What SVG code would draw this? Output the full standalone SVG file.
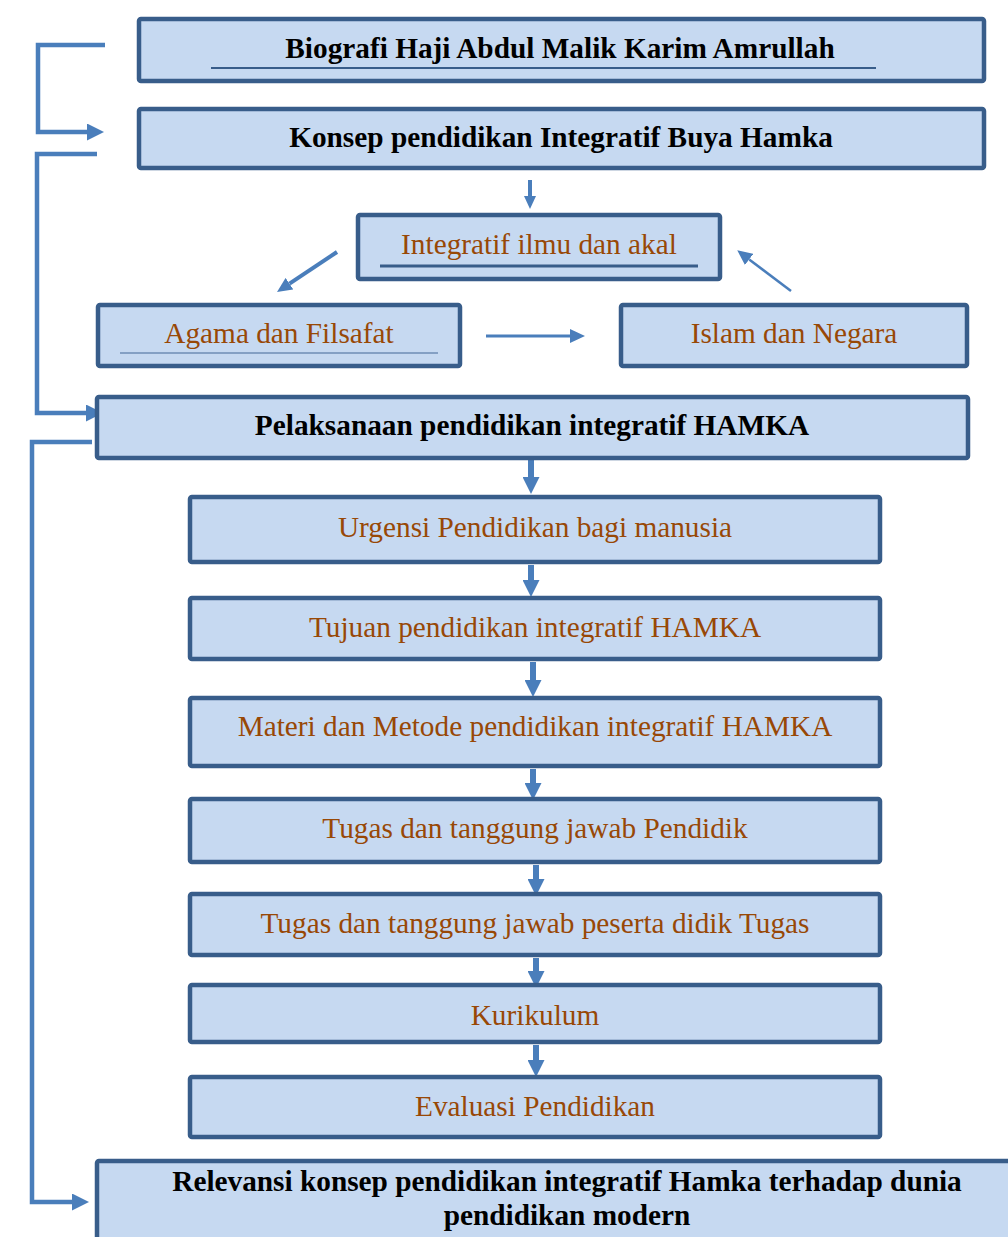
<svg xmlns="http://www.w3.org/2000/svg" width="1008" height="1237" viewBox="0 0 1008 1237">
<style>
.box{fill:#C6D9F1;stroke:#385D8A;stroke-width:4.5}
.b{font-family:"Liberation Serif","Times New Roman",serif;font-size:29.3px;font-weight:bold;fill:#000;text-anchor:middle}
.r{font-family:"Liberation Serif","Times New Roman",serif;font-size:29.3px;fill:#984806;text-anchor:middle}
.ul{stroke:#385D8A;fill:none}
.c{stroke:#4A7EBB;fill:none}
</style>
<defs>
<marker id="aBig" markerUnits="userSpaceOnUse" markerWidth="17" markerHeight="17" refX="0" refY="8.5" orient="auto"><path d="M0,0 L17,8.5 L0,17 z" fill="#4A7EBB"/></marker>
<marker id="aMed" markerUnits="userSpaceOnUse" markerWidth="15" markerHeight="14" refX="0" refY="7" orient="auto"><path d="M0,0 L15,7 L0,14 z" fill="#4A7EBB"/></marker>
<marker id="aSm" markerUnits="userSpaceOnUse" markerWidth="13" markerHeight="12" refX="0" refY="6" orient="auto"><path d="M0,0 L13,6 L0,12 z" fill="#4A7EBB"/></marker>
</defs>

<g id="connectors">
<path class="c" stroke-width="4.5" d="M105,45 H38 V132 H87" marker-end="url(#aBig)"/>
<path class="c" stroke-width="4.5" d="M97,154 H37 V413 H86" marker-end="url(#aBig)"/>
<path class="c" stroke-width="4.5" d="M92,442 H32 V1202 H72" marker-end="url(#aBig)"/>
<path class="c" stroke-width="4" d="M530,180 V196" marker-end="url(#aSm)"/>
<path class="c" stroke-width="4" d="M337,252 L289.5,283.7" marker-end="url(#aMed)"/>
<path class="c" stroke-width="2.5" d="M791,291 L749.2,259.4" marker-end="url(#aMed)"/>
<path class="c" stroke-width="3" d="M486,336 H570" marker-end="url(#aMed)"/>
<path class="c" stroke-width="6" d="M531,460 V477" marker-end="url(#aBig)"/>
<path class="c" stroke-width="6" d="M531,565 V580" marker-end="url(#aBig)"/>
<path class="c" stroke-width="6" d="M533,662 V680" marker-end="url(#aBig)"/>
<path class="c" stroke-width="6" d="M533,769 V783" marker-end="url(#aBig)"/>
<path class="c" stroke-width="6" d="M536,865 V879" marker-end="url(#aBig)"/>
<path class="c" stroke-width="6" d="M536,958 V971" marker-end="url(#aBig)"/>
<path class="c" stroke-width="6" d="M536,1045 V1060" marker-end="url(#aBig)"/>
</g>

<g id="n-biografi">
<rect class="box" x="139" y="19" width="845" height="62" rx="2"/>
<text class="b" x="560" y="58">Biografi Haji Abdul Malik Karim Amrullah</text>
<line class="ul" stroke-width="2" x1="211" y1="68" x2="876" y2="68"/>
</g>

<g id="n-konsep">
<rect class="box" x="139" y="109" width="845" height="59" rx="2"/>
<text class="b" x="561" y="147">Konsep pendidikan Integratif Buya Hamka</text>
</g>

<g id="n-integratif">
<rect class="box" x="358" y="215" width="362" height="64" rx="2"/>
<text class="r" x="539" y="254">Integratif ilmu dan akal</text>
<line class="ul" stroke-width="3" x1="380" y1="266" x2="698" y2="266"/>
</g>

<g id="n-agama">
<rect class="box" x="98" y="305" width="362" height="61" rx="2"/>
<text class="r" x="279" y="343">Agama dan Filsafat</text>
<line stroke="#6E8DB5" stroke-width="1.5" x1="120" y1="353" x2="438" y2="353"/>
</g>

<g id="n-islam">
<rect class="box" x="621" y="305" width="346" height="61" rx="2"/>
<text class="r" x="794" y="343">Islam dan Negara</text>
</g>

<g id="n-pelaksanaan">
<rect class="box" x="97" y="397" width="871" height="61" rx="2"/>
<text class="b" x="532" y="435">Pelaksanaan pendidikan integratif HAMKA</text>
</g>

<g id="n-urgensi">
<rect class="box" x="190" y="497" width="690" height="65" rx="2"/>
<text class="r" x="535" y="537">Urgensi Pendidikan bagi manusia</text>
</g>

<g id="n-tujuan">
<rect class="box" x="190" y="598" width="690" height="61" rx="2"/>
<text class="r" x="535" y="637">Tujuan pendidikan integratif HAMKA</text>
</g>

<g id="n-materi">
<rect class="box" x="190" y="698" width="690" height="68" rx="2"/>
<text class="r" x="535" y="736">Materi dan Metode pendidikan integratif HAMKA</text>
</g>

<g id="n-tugas-pendidik">
<rect class="box" x="190" y="799" width="690" height="63" rx="2"/>
<text class="r" x="535" y="838">Tugas dan tanggung jawab Pendidik</text>
</g>

<g id="n-tugas-peserta">
<rect class="box" x="190" y="894" width="690" height="61" rx="2"/>
<text class="r" x="535" y="933">Tugas dan tanggung jawab peserta didik Tugas</text>
</g>

<g id="n-kurikulum">
<rect class="box" x="190" y="985" width="690" height="57" rx="2"/>
<text class="r" x="535" y="1025">Kurikulum</text>
</g>

<g id="n-evaluasi">
<rect class="box" x="190" y="1077" width="690" height="60" rx="2"/>
<text class="r" x="535" y="1116">Evaluasi Pendidikan</text>
</g>

<g id="n-relevansi">
<rect class="box" x="97" y="1161" width="950" height="120" rx="2"/>
<text class="b" x="567" y="1191">Relevansi konsep pendidikan integratif Hamka terhadap dunia</text>
<text class="b" x="567" y="1225">pendidikan modern</text>
</g>
</svg>
